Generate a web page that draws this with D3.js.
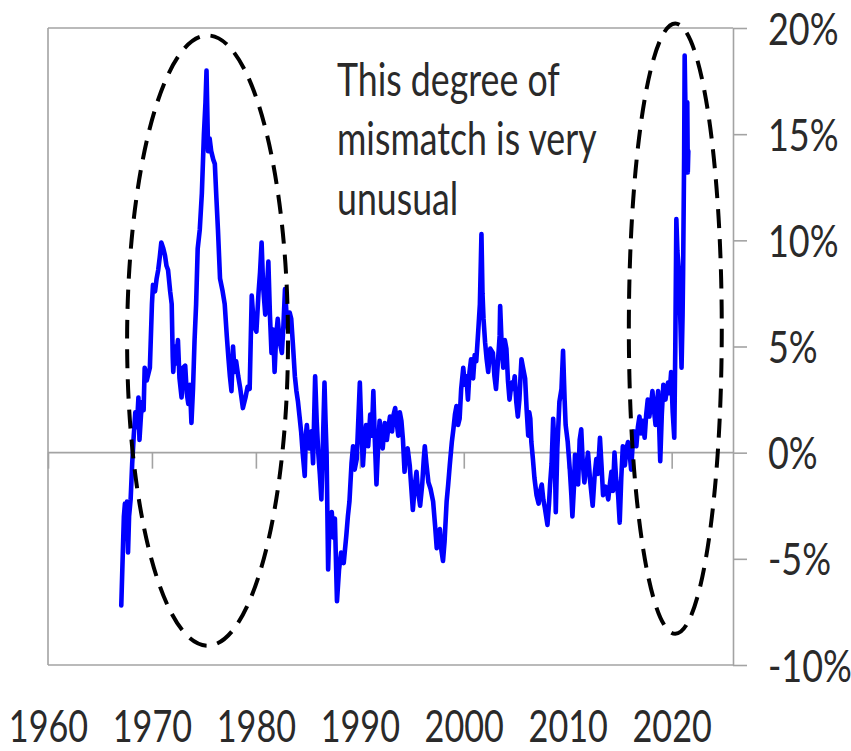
<!DOCTYPE html>
<html>
<head>
<meta charset="utf-8">
<script src="https://cdn.jsdelivr.net/npm/d3@7"></script>
<style>
  html, body { margin: 0; padding: 0; background: #ffffff; }
  svg { display: block; }
</style>
</head>
<body>
<svg id="chart" width="851" height="751"></svg>
<script>
// ---------------- DATA ----------------
const years = [
1967.05,1967.15,1967.3,1967.4,1967.5,1967.6,1967.7,1967.8,1967.95,1968.1,1968.25,1968.4,1968.55,1968.7,1968.8,1968.95,
1969.1,1969.2,1969.3,1969.5,1969.8,1970.0,1970.1,1970.3,1970.45,1970.6,1970.75,1970.9,1971.1,1971.25,1971.4,1971.55,
1971.75,1971.9,1972.0,1972.05,1972.2,1972.3,1972.5,1972.65,1972.85,1973.0,1973.2,1973.35,1973.5,1973.65,1973.8,1973.95,
1974.1,1974.25,1974.4,1974.6,1974.8,1975.0,1975.15,1975.25,1975.35,1975.4,1975.55,1975.7,1975.9,1976.05,1976.2,1976.35,
1976.55,1976.8,1977.0,1977.2,1977.35,1977.5,1977.65,1977.8,1977.95,1978.1,1978.3,1978.5,1978.75,1979.0,1979.2,1979.4,
1979.6,1979.8,1980.05,1980.25,1980.4,1980.55,1980.7,1980.9,1981.05,1981.2,1981.35,1981.5,1981.65,1981.8,1981.95,1982.1,
1982.3,1982.5,1982.65,1982.8,1982.95,1983.1,1983.25,1983.4,1983.6,1983.75,1983.9,1984.05,1984.2,1984.35,1984.5,1984.7,
1984.8,1984.9,1985.1,1985.35,1985.5,1985.7,1985.85,1986.0,1986.15,1986.3,1986.45,1986.6,1986.7,1986.8,1986.95,1987.1,
1987.3,1987.45,1987.6,1987.8,1988.0,1988.2,1988.45,1988.7,1988.85,1989.0,1989.2,1989.35,1989.5,1989.7,1989.85,1990.0,
1990.15,1990.3,1990.45,1990.6,1990.8,1991.0,1991.15,1991.3,1991.45,1991.6,1991.75,1991.9,1992.05,1992.2,1992.4,1992.6,
1992.75,1992.9,1993.1,1993.25,1993.4,1993.55,1993.7,1993.85,1994.0,1994.15,1994.3,1994.45,1994.6,1994.8,1995.1,1995.3,
1995.45,1995.6,1995.8,1996.0,1996.15,1996.25,1996.4,1996.6,1996.8,1997.05,1997.25,1997.4,1997.55,1997.7,1997.85,1998.0,
1998.15,1998.35,1998.5,1998.65,1998.85,1999.0,1999.15,1999.3,1999.45,1999.6,1999.75,1999.95,2000.1,2000.25,2000.4,2000.55,
2000.7,2000.9,2001.05,2001.2,2001.4,2001.55,2001.7,2001.8,2001.9,2002.05,2002.2,2002.35,2002.55,2002.8,2002.95,2003.1,
2003.3,2003.45,2003.5,2003.65,2003.8,2003.95,2004.1,2004.25,2004.4,2004.6,2004.75,2004.9,2005.05,2005.2,2005.35,2005.45,
2005.55,2005.7,2005.9,2006.05,2006.2,2006.3,2006.4,2006.5,2006.65,2006.8,2007.0,2007.2,2007.35,2007.5,2007.65,2007.8,
2008.05,2008.2,2008.3,2008.45,2008.6,2008.75,2008.85,2009.0,2009.2,2009.4,2009.55,2009.7,2009.8,2010.0,2010.2,2010.35,
2010.45,2010.6,2010.7,2010.85,2011.0,2011.15,2011.3,2011.45,2011.6,2011.8,2011.95,2012.15,2012.4,2012.6,2012.75,2012.9,
2013.1,2013.25,2013.4,2013.65,2013.9,2014.05,2014.2,2014.35,2014.5,2014.65,2014.85,2015.0,2015.15,2015.3,2015.5,2015.65,
2015.8,2015.95,2016.1,2016.25,2016.4,2016.6,2016.75,2016.9,2017.05,2017.2,2017.4,2017.55,2017.7,2017.85,2018.0,2018.15,
2018.3,2018.45,2018.6,2018.7,2018.8,2018.9,2019.05,2019.2,2019.4,2019.55,2019.65,2019.8,2019.95,2020.1,2020.25,2020.35,
2020.45,2020.55,2020.7,2020.85,2020.95,2021.05,2021.1,2021.2,2021.25,2021.3,2021.4,2021.5,2021.55,2021.6
];
const mismatch = [
-7.2,-5.5,-3.0,-2.4,-4.0,-2.3,-4.7,-3.0,-2.2,-0.5,0.8,1.9,1.2,2.6,0.6,1.8,
2.4,2.0,4.0,3.4,4.0,7.0,7.9,7.6,8.2,8.6,9.2,9.9,9.6,9.3,8.8,8.6,
7.6,7.0,4.5,3.8,5.0,4.2,5.3,3.5,2.6,4.0,4.1,2.8,2.3,3.2,1.4,3.0,
5.3,7.0,9.6,10.5,12.2,15.0,16.5,18.0,15.5,14.2,14.8,14.2,13.8,13.6,12.0,10.5,
8.2,7.6,7.0,5.5,4.5,3.6,2.9,5.0,3.8,4.3,3.6,3.0,2.1,2.6,3.1,3.0,
7.4,6.0,5.7,7.5,8.5,9.9,7.8,6.5,7.6,9.0,6.5,4.7,5.8,3.8,5.5,6.3,
5.2,4.7,6.0,7.7,6.5,5.8,6.6,6.3,4.8,3.6,2.9,2.4,1.7,1.0,0.0,-1.1,
0.8,1.3,0.2,1.0,-0.5,3.6,1.5,0.0,-1.0,-2.2,0.5,3.3,1.5,0.0,-5.5,-3.0,
-2.8,-4.0,-3.1,-7.0,-5.5,-4.7,-5.2,-3.9,-3.0,-2.3,-0.5,0.3,-0.8,-0.3,1.5,3.3,
1.0,-0.6,0.6,1.3,0.3,1.8,0.8,2.9,0.5,-1.5,0.2,1.5,0.8,0.2,1.4,0.6,
1.2,1.7,1.0,1.8,2.1,1.4,0.8,1.9,1.5,0.6,-0.9,0.0,0.2,-0.6,-2.7,-1.5,
-0.9,-1.8,-2.5,-1.5,-0.3,0.3,-0.5,-1.4,-1.7,-2.3,-3.5,-4.5,-3.9,-3.6,-4.6,-5.1,
-4.2,-2.3,-1.5,-0.6,0.5,1.1,1.8,2.2,1.3,1.6,3.0,4.0,3.2,3.6,2.5,3.8,
4.4,3.5,4.6,4.3,5.8,7.0,10.3,7.5,6.3,5.2,4.4,3.8,4.9,4.7,3.6,3.0,
4.4,5.5,6.9,5.0,4.0,5.3,4.9,3.4,2.5,3.3,3.0,3.6,2.4,1.7,2.5,3.5,
4.4,4.0,3.5,2.0,0.8,1.9,1.6,0.5,-0.3,-1.2,-2.0,-2.4,-1.8,-1.5,-2.2,-2.6,
-3.4,-2.4,-1.5,-0.5,1.6,0.0,-2.8,0.2,2.4,3.0,4.8,2.5,1.3,0.5,-0.8,-2.0,
-3.0,-1.6,-0.1,-0.9,-1.5,0.6,1.1,-0.5,-1.4,-0.6,0.0,-1.3,-2.5,-1.0,-0.3,-1.0,
0.7,-0.6,-2.0,-1.6,-2.2,-1.5,-0.9,-1.8,0.0,-1.2,-2.0,-3.3,-1.2,0.3,-0.6,0.2,
0.5,0.0,-0.8,0.4,1.0,0.3,1.2,1.7,0.9,1.5,0.7,1.8,2.5,1.7,2.2,2.9,
2.0,1.3,2.4,2.9,1.2,-0.4,1.8,3.2,2.5,3.0,3.3,2.8,3.8,1.9,0.7,5.0,
11.0,9.5,8.5,6.0,4.0,6.5,8.5,14.0,18.7,17.0,14.0,16.5,13.2,14.2
];
const xTicks = [1960, 1970, 1980, 1990, 2000, 2010, 2020];
const yTicks = [-10, -5, 0, 5, 10, 15, 20];
const annotationLines = ["This degree of", "mismatch is very", "unusual"];
// ellipses: centre year, centre %, half-width in years, half-height in %
const ellipseCx = [1975.35, 2020.35];
const ellipseCy = [5.28, 5.84];
const ellipseRx = [7.74, 4.47];
const ellipseRy = [14.37, 14.37];
const annotationAt = [1987.8, 16.8];

// ---------------- CHART ----------------
const svg = d3.select("#chart");
const mLeft = 48, mRight = 733, mTop = 28, mBottom = 665;
const x = d3.scaleLinear().domain([1960, 2025.9]).range([mLeft, mRight]);
const y = d3.scaleLinear().domain([-10, 20]).range([mBottom, mTop]);

const gridColor = "#a3a3a3";
const textColor = "#2a2a2a";
const fontFam = "Lato, 'Open Sans', sans-serif";
const condense = 0.76;

function hline(v) {
  svg.append("line").attr("x1", mLeft).attr("x2", mRight).attr("y1", y(v)).attr("y2", y(v))
    .attr("stroke", gridColor).attr("stroke-width", 1.6);
}
svg.append("line").attr("x1", mLeft).attr("x2", mLeft).attr("y1", y(20)).attr("y2", y(-10))
  .attr("stroke", gridColor).attr("stroke-width", 1.6);
hline(20); hline(-10); hline(0);

// right y axis
const yAxis = d3.axisRight(y).tickValues(yTicks).tickSize(14).tickSizeOuter(0)
  .tickFormat(d => d + "%");
const gy = svg.append("g").attr("transform", `translate(${mRight},0)`).call(yAxis);
gy.select(".domain").attr("stroke", gridColor).attr("stroke-width", 1.6);
gy.selectAll(".tick line").attr("stroke", gridColor).attr("stroke-width", 1.6);
gy.selectAll(".tick text")
  .attr("x", null).attr("dy", null)
  .attr("transform", `translate(35,16) scale(0.8,1)`)
  .attr("text-anchor", "start")
  .attr("fill", textColor)
  .style("font-family", fontFam).style("font-size", "45px");

// x axis: ticks hanging from the zero line, labels at the bottom
const xAxis = d3.axisBottom(x).tickValues(xTicks).tickSize(16).tickSizeOuter(0)
  .tickFormat(d3.format("d"));
const gx = svg.append("g").attr("transform", `translate(0,${y(0)})`).call(xAxis);
gx.select(".domain").remove();
gx.selectAll(".tick line").attr("stroke", gridColor).attr("stroke-width", 1.6);
gx.selectAll(".tick text")
  .attr("y", null).attr("dy", null)
  .attr("transform", `translate(0,${742 - y(0)}) scale(${condense},1)`)
  .attr("text-anchor", "middle")
  .attr("fill", textColor)
  .style("font-family", fontFam).style("font-size", "45px");

// series line
const n = Math.min(years.length, mismatch.length);
const pts = d3.range(n).map(i => [years[i], mismatch[i]]);
const line = d3.line().x(d => x(d[0])).y(d => y(d[1]));
svg.append("path").datum(pts)
  .attr("d", line)
  .attr("fill", "none")
  .attr("stroke", "#0000ff")
  .attr("stroke-width", 4.6)
  .attr("stroke-linejoin", "round")
  .attr("stroke-linecap", "round");

// dashed ellipses
ellipseCx.forEach((cx, i) => {
  svg.append("ellipse")
    .attr("cx", x(cx)).attr("cy", y(ellipseCy[i]))
    .attr("rx", x(cx + ellipseRx[i]) - x(cx))
    .attr("ry", y(0) - y(ellipseRy[i]))
    .attr("fill", "none")
    .attr("stroke", "#000")
    .attr("stroke-width", 4)
    .attr("stroke-dasharray", "19,11");
});

// annotation text
const ann = svg.append("g")
  .attr("transform", `translate(${x(annotationAt[0])},${y(annotationAt[1])})`);
annotationLines.forEach((t, i) => {
  ann.append("text")
    .attr("transform", `translate(0,${i * 59.5}) scale(${condense},1)`)
    .attr("fill", textColor)
    .style("font-family", fontFam).style("font-size", "47px")
    .text(t);
});
</script>
</body>
</html>
